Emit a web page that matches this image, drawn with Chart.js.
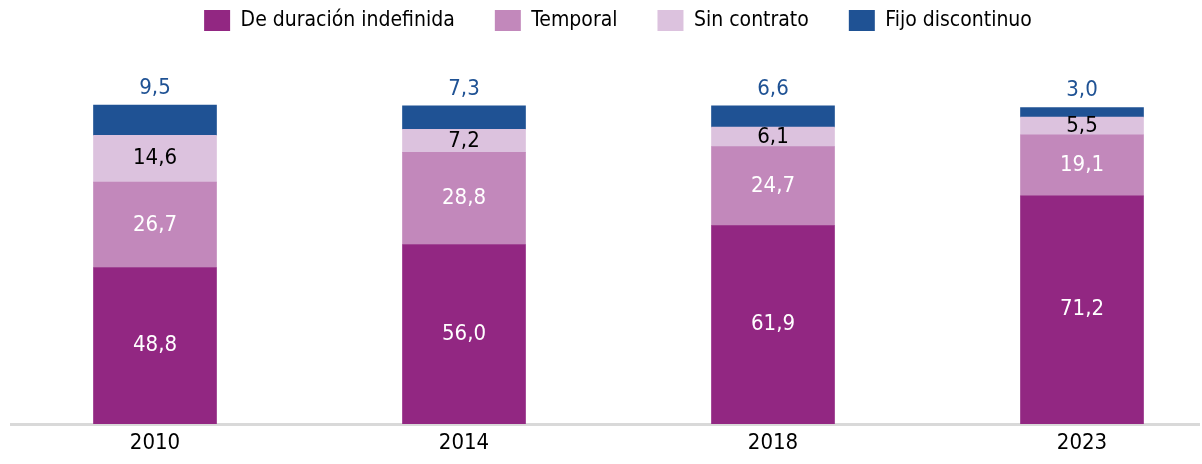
<!DOCTYPE html>
<html>
<head>
<meta charset="utf-8">
<script src="https://cdn.jsdelivr.net/npm/chart.js@4"></script>
<style>
    html, body { margin: 0; padding: 0; background: #fff; }
    #wrap { width: 1202px; height: 464px; }
</style>
</head>
<body>
<div id="wrap"><canvas id="myChart" width="1202" height="464"></canvas></div>
<script>
"use strict";

const years = ['2010', '2014', '2018', '2023'];
const indefinida = [48.8, 56.0, 61.9, 71.2];
const temporal = [26.7, 28.8, 24.7, 19.1];
const sinContrato = [14.6, 7.2, 6.1, 5.5];
const fijoDiscontinuo = [9.5, 7.3, 6.6, 3.0];

const seriesNames = ['De duración indefinida', 'Temporal', 'Sin contrato', 'Fijo discontinuo'];
const colors = ['#922782', '#C288BB', '#DCC2DE', '#1F5294'];
const labelColors = ['#ffffff', '#ffffff', '#000000', '#1F5294'];

const FONT = "'Liberation Sans Narrow', 'DejaVu Sans Condensed', sans-serif";

function fmt(v) {
    return v.toFixed(1).replace('.', ',');
}

// draws the numbers: inside the segments, and above the bar for the last series
const valueLabels = {
    id: 'valueLabels',
    afterDatasetsDraw(chart) {
        const ctx = chart.ctx;
        ctx.save();
        ctx.font = '22px ' + FONT;
        ctx.textAlign = 'center';
        ctx.textBaseline = 'middle';
        chart.data.datasets.forEach((ds, i) => {
            const meta = chart.getDatasetMeta(i);
            meta.data.forEach((bar, j) => {
                const props = bar.getProps(['x', 'y', 'base'], true);
                let y;
                if (i === 3) {
                    y = props.y - 17;
                } else {
                    y = (props.y + props.base) / 2;
                }
                ctx.fillStyle = labelColors[i];
                ctx.fillText(fmt(ds.data[j]), props.x, y);
            });
        });
        ctx.restore();
    }
};

// long grey base line under the bars
const baseLine = {
    id: 'baseLine',
    beforeDatasetsDraw(chart) {
        const ctx = chart.ctx;
        const y = chart.scales.y.getPixelForValue(0) + 1;
        ctx.save();
        ctx.strokeStyle = '#d9d9d9';
        ctx.lineWidth = 3;
        ctx.beginPath();
        ctx.moveTo(10, y);
        ctx.lineTo(1200, y);
        ctx.stroke();
        ctx.restore();
    }
};

const seriesData = [indefinida, temporal, sinContrato, fijoDiscontinuo];
const datasets = seriesData.map((data, i) => ({
    label: seriesNames[i],
    data,
    backgroundColor: colors[i],
    borderWidth: 0,
    barThickness: 123,
    clip: false,
}));

new Chart(document.getElementById('myChart'), {
    type: 'bar',
    data: { labels: years, datasets },
    plugins: [valueLabels, baseLine],
    options: {
        responsive: false,
        animation: false,
        layout: {
            padding: { left: 34, right: 0, top: -30, bottom: 10 }
        },
        plugins: {
            legend: {
                display: true,
                position: 'top',
                labels: {
                    font: { family: FONT, size: 21 },
                    color: '#000',
                    boxWidth: 26,
                    boxHeight: 21,
                    padding: 40,
                },
            },
            tooltip: { enabled: false },
        },
        scales: {
            x: {
                stacked: true,
                offset: false,
                grid: { display: false },
                border: { display: false },
                ticks: {
                    font: { family: FONT, size: 22 },
                    color: '#000',
                    padding: -2,
                },
            },
            y: {
                stacked: true,
                position: 'left',
                min: 0,
                max: 119.6,
                grid: { display: false },
                border: { display: false },
                ticks: { display: false },
                afterFit(scale) { scale.width = 121; },
            },
            y2: {
                position: 'right',
                min: 0,
                max: 100,
                grid: { display: false },
                border: { display: false },
                ticks: { display: false },
                afterFit(scale) { scale.width = 120; },
            },
        },
    },
});
</script>
</body>
</html>
